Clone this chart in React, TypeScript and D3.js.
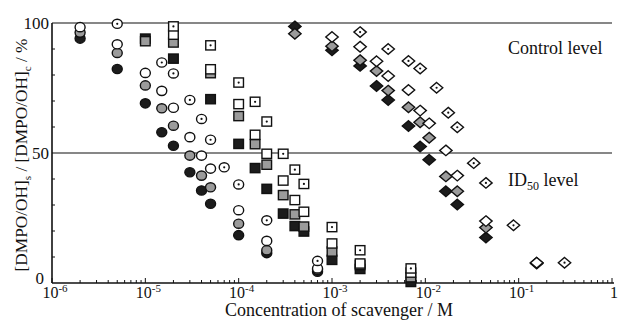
import React from 'react';
import * as d3 from 'd3';

// scavenger concentration (M) and [DMPO/OH]s/[DMPO/OH]c (%)
const circleConc = [2e-6, 5e-6, 1e-5, 1.5e-5, 2e-5, 3e-5, 4e-5, 5e-5, 1e-4, 2e-4, 7e-4];
const circleBlack = [94.0, 82.3, 69.1, 58.0, 52.8, 42.6, 35.6, 30.5, 18.4, 11.5, 4.3];
const circleGray = [96.3, 88.5, 76.0, 67.2, 60.5, 49.0, 41.3, 36.8, 22.8, 12.6, 5.1];
const circleWhite = [98.4, 91.8, 80.8, 73.9, 67.4, 56.1, 49.0, 44.0, 28.0, 16.2, 5.6];
const circleDotConc = [5e-6, 1.5e-5, 2e-5, 3e-5, 4e-5, 5e-5, 7e-5, 1e-4, 2e-4, 7e-4];
const circleDot = [99.7, 84.8, 80.6, 70.4, 63.1, 55.1, 44.5, 37.9, 24.1, 8.5];

const squareConc = [1e-5, 2e-5, 5e-5, 1e-4, 1.5e-4, 2e-4, 3e-4, 4e-4, 5e-4, 1e-3, 2e-3, 7e-3];
const squareBlack = [94.0, 86.3, 70.7, 53.5, 44.2, 36.2, 26.7, 21.9, 19.8, 8.9, 5.4, 0.4];
const squareGray = [93.0, 92.5, 80.7, 64.2, 53.4, 45.5, 33.8, 26.4, 21.7, 12.1, 6.9, 2.2];
const squareWhiteConc = [2e-5, 5e-5, 1e-4, 1.5e-4, 2e-4, 3e-4, 4e-4, 5e-4, 1e-3, 2e-3, 7e-3];
const squareWhite = [95.5, 82.2, 68.8, 57.0, 49.7, 39.4, 31.9, 27.4, 15.2, 7.5, 4.0];
const squareDot = [98.7, 91.4, 77.1, 69.7, 62.1, 49.7, 43.6, 38.1, 21.5, 12.6, 5.6];

const diamondConc = [4e-4, 1e-3, 2e-3, 3e-3, 4e-3, 6.6e-3, 8.8e-3, 1.1e-2, 1.66e-2, 2.2e-2, 4.46e-2, 0.156];
const diamondBlack = [98.7, 89.5, 83.5, 75.8, 70.4, 60.4, 52.5, 47.4, 35.3, 30.2, 17.5, 7.5];
const diamondGray = [95.9, 91.1, 85.7, 81.5, 74.0, 67.6, 61.8, 55.9, 41.0, 35.3, 21.3, 7.8];
const diamondWhiteConc = [1e-3, 2e-3, 3e-3, 4e-3, 6.6e-3, 8.8e-3, 1.1e-2, 1.66e-2, 2.2e-2, 4.46e-2, 0.156];
const diamondWhite = [94.6, 90.9, 85.3, 79.6, 74.2, 66.3, 61.4, 51.0, 41.3, 23.8, 7.8];
const diamondDotConc = [2e-3, 4e-3, 6.6e-3, 8.8e-3, 1.32e-2, 1.76e-2, 2.2e-2, 3.3e-2, 4.46e-2, 8.8e-2, 0.31];
const diamondDot = [96.5, 90.0, 85.4, 82.5, 75.1, 65.5, 59.9, 46.1, 38.5, 22.2, 7.8];

const decades = [-6, -5, -4, -3, -2, -1];
const yTickLabels = [0, 50, 100];

const BLACK = '#1c1c1c';
const GRAY = '#9b9b9b';
const WHITE = '#ffffff';
const FONT = '"Liberation Serif", "Times New Roman", serif';

type Shape = 'circle' | 'square' | 'diamond';

const series: { shape: Shape; fill: string; dot: boolean; conc: number[]; vals: number[] }[] = [
  { shape: 'circle', fill: BLACK, dot: false, conc: circleConc, vals: circleBlack },
  { shape: 'circle', fill: GRAY, dot: false, conc: circleConc, vals: circleGray },
  { shape: 'circle', fill: WHITE, dot: false, conc: circleConc, vals: circleWhite },
  { shape: 'circle', fill: WHITE, dot: true, conc: circleDotConc, vals: circleDot },
  { shape: 'square', fill: BLACK, dot: false, conc: squareConc, vals: squareBlack },
  { shape: 'square', fill: GRAY, dot: false, conc: squareConc, vals: squareGray },
  { shape: 'square', fill: WHITE, dot: false, conc: squareWhiteConc, vals: squareWhite },
  { shape: 'square', fill: WHITE, dot: true, conc: squareWhiteConc, vals: squareDot },
  { shape: 'diamond', fill: BLACK, dot: false, conc: diamondConc, vals: diamondBlack },
  { shape: 'diamond', fill: GRAY, dot: false, conc: diamondConc, vals: diamondGray },
  { shape: 'diamond', fill: WHITE, dot: false, conc: diamondWhiteConc, vals: diamondWhite },
  { shape: 'diamond', fill: WHITE, dot: true, conc: diamondDotConc, vals: diamondDot },
];

const Marker = ({ shape, cx, cy, fill, dot }: { shape: Shape; cx: number; cy: number; fill: string; dot: boolean }) => {
  const common = { fill, stroke: '#111', strokeWidth: 1.4 };
  let body;
  if (shape === 'circle') body = <ellipse cx={cx} cy={cy} rx={5} ry={4.6} {...common} />;
  else if (shape === 'square') body = <rect x={cx - 4.8} y={cy - 4.6} width={9.6} height={9.2} {...common} />;
  else
    body = (
      <path d={`M${cx},${cy - 5.3}L${cx + 6.2},${cy}L${cx},${cy + 5.3}L${cx - 6.2},${cy}Z`} {...common} />
    );
  return (
    <g>
      {body}
      {dot && <circle cx={cx} cy={cy} r={1.1} fill="#111" />}
    </g>
  );
};

export default function App() {
  const width = 618;
  const height = 320;
  const x = d3.scaleLog().domain([1e-6, 1]).range([52, 612]);
  const y = d3.scaleLinear().domain([0, 100]).range([283, 23]);
  const [x0, x1] = x.range();

  const xMinor = x.ticks();
  const isMajor = (t: number) => Math.abs(Math.log10(t) - Math.round(Math.log10(t))) < 1e-6;
  const yMinor = d3.range(10, 100, 10).filter((v) => v !== 50);

  return (
    <svg width={width} height={height} style={{ position: 'absolute', left: 0, top: 0, background: '#fff' }} fontFamily={FONT}>
      {/* reference lines */}
      <line x1={x0} x2={x1} y1={y(100)} y2={y(100)} stroke="#111" strokeWidth={1.2} />
      <line x1={x0} x2={x1} y1={y(50)} y2={y(50)} stroke="#111" strokeWidth={1.2} />

      {/* axes */}
      <line x1={x0} x2={x0} y1={y(100)} y2={y(0)} stroke="#111" strokeWidth={1.6} />
      <line x1={x0} x2={x1 + 2} y1={y(0)} y2={y(0)} stroke="#111" strokeWidth={1.6} />

      {xMinor.map((t, i) => (
        <line key={'xt' + i} x1={x(t)} x2={x(t)} y1={y(0)} y2={y(0) - (isMajor(t) ? 5 : 3)} stroke="#111" strokeWidth={1} />
      ))}
      {yMinor.map((t) => (
        <line key={'yt' + t} x1={x0} x2={x0 + 3} y1={y(t)} y2={y(t)} stroke="#111" strokeWidth={1} />
      ))}

      {decades.map((d) => (
        <text key={'xl' + d} x={x(Math.pow(10, d)) + 3} y={298} textAnchor="middle" fontSize={16} fill="#111">
          10<tspan fontSize={11} dy={-6}>{d}</tspan>
        </text>
      ))}
      <text x={x(1) + 2} y={298} textAnchor="middle" fontSize={16} fill="#111">1</text>

      {yTickLabels.map((t) => (
        <text key={'yl' + t} x={t === 0 ? 44 : 49} y={y(t) + (t === 0 ? 1 : 6)} textAnchor="end" fontSize={17} fill="#111">
          {t}
        </text>
      ))}

      {/* axis titles */}
      <text x={339} y={316} textAnchor="middle" fontSize={18} fill="#111">
        Concentration of scavenger / M
      </text>
      <text transform={`translate(27,${155}) rotate(-90)`} textAnchor="middle" fontSize={17.3} fill="#111">
        [DMPO/OH]<tspan fontSize={11} dy={4}>s</tspan>
        <tspan dy={-4}> / [DMPO/OH]</tspan>
        <tspan fontSize={11} dy={4}>c</tspan>
        <tspan dy={-4}> / %</tspan>
      </text>

      {/* annotations */}
      <text x={508} y={54} fontSize={18} fill="#111">Control level</text>
      <text x={508} y={186} fontSize={18} fill="#111">
        ID<tspan fontSize={12} dy={4}>50</tspan>
        <tspan dy={-4}> level</tspan>
      </text>

      {/* data */}
      {series.map((s, si) =>
        s.vals.map((v, i) => (
          <Marker key={si + '-' + i} shape={s.shape} cx={x(s.conc[i])} cy={y(v)} fill={s.fill} dot={s.dot} />
        ))
      )}
    </svg>
  );
}
